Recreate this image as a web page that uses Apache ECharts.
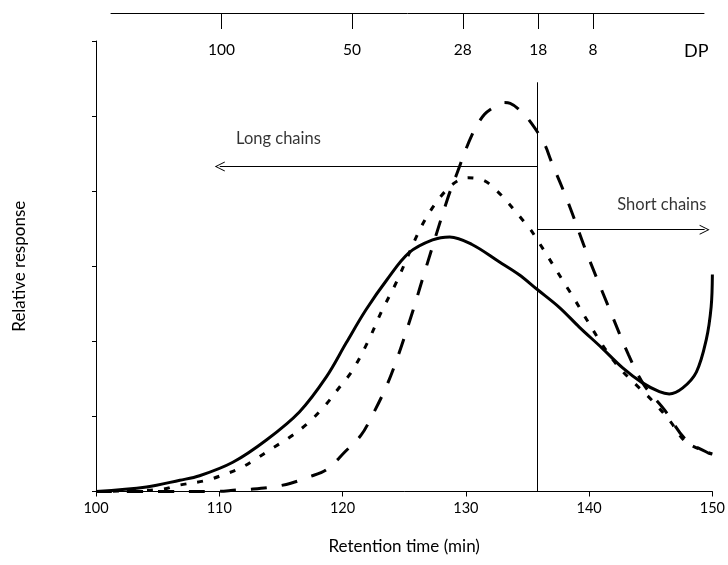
<!DOCTYPE html>
<html>
<head>
<meta charset="utf-8">
<script src="https://cdn.jsdelivr.net/npm/echarts@6/dist/echarts.min.js"></script>
<style>html,body{margin:0;padding:0;background:#fff}#c{width:728px;height:565px}</style>
</head>
<body>
<div id="c"></div>
<script>
// Retention time (min) and relative response for each trace
const solidTime = [100, 104.1, 106.8, 108.4, 111.1, 113.85, 116.5, 118.7, 120.3, 121.9, 123.6, 125.4, 127.3, 128.7, 130.5, 132.7, 134.3, 135.8, 137.6, 139.2, 141.05, 142.7, 144.3, 145.7, 146.5, 147.6, 148.7, 149.5, 149.9, 150];
const solidResp = [0, 0.06, 0.15, 0.21, 0.39, 0.69, 1.06, 1.53, 1.98, 2.42, 2.82, 3.18, 3.35, 3.39, 3.29, 3.06, 2.89, 2.69, 2.45, 2.19, 1.91, 1.65, 1.45, 1.33, 1.30, 1.38, 1.59, 2.02, 2.46, 2.89];

const midTime = [100, 103, 105.4, 106.6, 109.0, 110.45, 111.7, 112.95, 114.25, 115.6, 117.05, 118.5, 119.9, 120.8, 122.1, 123.2, 124.2, 127.3, 130.2, 131.8, 135.0, 135.8, 138.4, 142.0, 145.3, 146.6, 147.85, 150];
const midResp = [0, 0.01, 0.03, 0.08, 0.15, 0.23, 0.31, 0.43, 0.57, 0.71, 0.89, 1.13, 1.42, 1.61, 2.01, 2.41, 2.73, 3.78, 4.18, 4.11, 3.54, 3.35, 2.67, 1.74, 1.18, 0.93, 0.66, 0.50];

const longTime = [100, 105, 109.4, 111.5, 112.6, 114.3, 115.8, 117.2, 118.7, 120.2, 121.5, 122.4, 123.5, 124.45, 125.5, 125.9, 126.6, 128.5, 129.15, 130.5, 131.5, 132.5, 133.1, 133.6, 134.3, 135.3, 136.4, 136.9, 138.3, 139.8, 141.7, 143.2, 144.45, 146.1, 147.85, 149.7, 150];
const longResp = [0, 0, 0, 0.02, 0.03, 0.06, 0.11, 0.19, 0.29, 0.53, 0.75, 1.01, 1.38, 1.78, 2.30, 2.51, 2.89, 3.89, 4.18, 4.75, 5.02, 5.14, 5.18, 5.17, 5.09, 4.91, 4.62, 4.41, 3.85, 3.18, 2.41, 1.82, 1.42, 1.09, 0.69, 0.51, 0.50];

// Top DP scale (positions expressed in retention time)
const dpTickTimes = [110.15, 120.72, 129.7, 135.8, 140.24];
const dpTickLabels = ['100', '50', '28', '18', '8'];
const dpUnitTime = 148.6;
const dpUnitLabel = 'DP';

// Annotations
const cutTime = 135.8;
const cutTop = 5.45;
const longArrow = {from: 135.8, to: 110.04, level: 4.327, text: 'Long chains', textTime: 114.8, textLevel: 4.7};
const shortArrow = {from: 135.8, to: 149.37, level: 3.487, text: 'Short chains', textTime: 145.9, textLevel: 3.82};

const FONT = 'Lato';
const pair = (t, v) => t.map((x, i) => [x, v[i]]);

const chevron = 'path://M0,10 L5,0 L10,10 L9,10 L5,2 L1,10 Z';

const chart = echarts.init(document.getElementById('c'), null, {renderer: 'canvas'});
chart.setOption({
  animation: false,
  backgroundColor: '#fff',
  textStyle: {fontFamily: FONT},
  grid: [
    {left: 96, right: 14.5, top: 41, bottom: 73.5},
    {left: 111, width: 593, top: 12, height: 1}
  ],
  xAxis: [
    {
      gridIndex: 0, type: 'value', min: 100, max: 150, interval: 10,
      name: 'Retention time (min)', nameLocation: 'middle', nameGap: 47,
      nameTextStyle: {fontFamily: FONT, fontSize: 17, color: '#000'},
      axisLine: {lineStyle: {color: '#000', width: 1}},
      axisTick: {show: true, length: 5, lineStyle: {color: '#000'}},
      axisLabel: {color: '#000', fontSize: 14.5, margin: 9, fontFamily: FONT},
      splitLine: {show: false}
    },
    {
      gridIndex: 1, type: 'value', min: 101.21, max: 149.23, position: 'bottom',
      axisLine: {show: true, lineStyle: {color: '#000', width: 1}},
      axisTick: {show: true, length: 16, lineStyle: {color: '#000'}, customValues: dpTickTimes},
      axisLabel: {
        show: true, color: '#000', fontSize: 15.5, margin: 29, fontFamily: FONT,
        customValues: dpTickTimes.concat([dpUnitTime]),
        formatter: v => {
          if (Math.abs(v - dpUnitTime) < 1e-6) return '{u|' + dpUnitLabel + '}';
          const i = dpTickTimes.findIndex(t => Math.abs(t - v) < 1e-6);
          return i >= 0 ? dpTickLabels[i] : '';
        },
        rich: {u: {fontSize: 18, fontFamily: FONT, color: '#000'}}
      },
      splitLine: {show: false}
    }
  ],
  yAxis: [
    {
      gridIndex: 0, type: 'value', min: 0, max: 6, interval: 1,
      name: 'Relative response', nameLocation: 'middle', nameGap: 68,
      nameTextStyle: {fontFamily: FONT, fontSize: 17, color: '#000'},
      axisLine: {show: true, lineStyle: {color: '#000', width: 1}},
      axisTick: {show: true, length: 4, lineStyle: {color: '#000'}},
      axisLabel: {show: false},
      splitLine: {show: false}
    },
    {gridIndex: 1, type: 'value', min: 0, max: 1, show: false}
  ],
  series: [
    {
      type: 'line', xAxisIndex: 0, yAxisIndex: 0, data: pair(solidTime, solidResp),
      symbol: 'none', smooth: 0.35, z: 3,
      lineStyle: {color: '#000', width: 3}
    },
    {
      type: 'line', xAxisIndex: 0, yAxisIndex: 0, data: pair(midTime, midResp),
      symbol: 'none', smooth: 0.35, z: 3,
      lineStyle: {color: '#000', width: 3, type: [6, 11], cap: 'butt'}
    },
    {
      type: 'line', xAxisIndex: 0, yAxisIndex: 0, data: pair(longTime, longResp),
      symbol: 'none', smooth: 0.35, z: 3,
      lineStyle: {color: '#000', width: 3, type: [16, 15], cap: 'butt'}
    },
    {
      type: 'line', xAxisIndex: 0, yAxisIndex: 0, data: [], z: 2,
      markLine: {
        silent: true, animation: false,
        label: {show: false},
        emphasis: {disabled: true},
        lineStyle: {color: '#000', width: 1, type: 'solid'},
        data: [
          [{coord: [cutTime, 0], symbol: 'none'}, {coord: [cutTime, cutTop], symbol: 'none'}],
          [{coord: [longArrow.from, longArrow.level], symbol: 'none'}, {coord: [longArrow.to, longArrow.level], symbol: chevron, symbolSize: [10, 10]}],
          [{coord: [shortArrow.from, shortArrow.level], symbol: 'none'}, {coord: [shortArrow.to, shortArrow.level], symbol: chevron, symbolSize: [10, 10]}]
        ]
      }
    },
    {
      type: 'scatter', xAxisIndex: 0, yAxisIndex: 0, silent: true, z: 4,
      symbol: 'circle', symbolSize: 1,
      itemStyle: {color: 'rgba(0,0,0,0)'},
      label: {show: true, position: 'inside', color: '#000', fontSize: 16.5, fontFamily: FONT, formatter: p => p.name},
      data: [
        {name: longArrow.text, value: [longArrow.textTime, longArrow.textLevel]},
        {name: shortArrow.text, value: [shortArrow.textTime, shortArrow.textLevel]}
      ]
    }
  ]
});
</script>
</body>
</html>
